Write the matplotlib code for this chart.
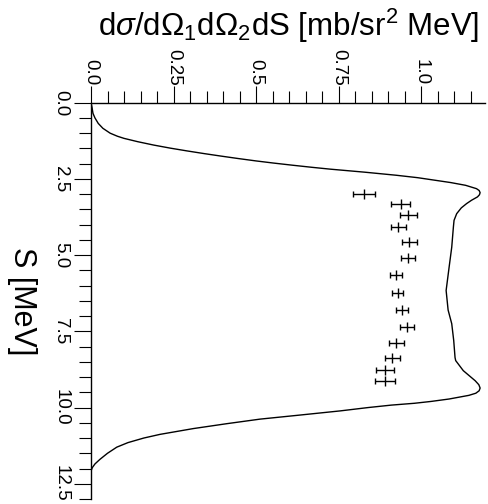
import matplotlib
matplotlib.use("Agg")
import matplotlib.pyplot as plt
from matplotlib.ticker import MultipleLocator, FixedLocator

plt.rcParams['font.family'] = ['Liberation Sans', 'DejaVu Sans']
plt.rcParams['mathtext.fontset'] = 'custom'
plt.rcParams['mathtext.rm'] = 'Liberation Sans'
plt.rcParams['mathtext.it'] = 'Liberation Sans:italic'
plt.rcParams['mathtext.bf'] = 'Liberation Sans:bold'

# Theory curve: S [MeV] and cross section [mb/sr^2 MeV]
curve_S = [0.0, 0.05, 0.15, 0.35, 0.5, 0.68, 0.84, 1.0, 1.1, 1.17, 1.28, 1.39, 1.49,
           1.58, 1.67, 1.75, 1.83, 1.91, 1.98, 2.05, 2.12, 2.18, 2.28, 2.38, 2.46, 2.54,
           2.62, 2.71, 2.82, 2.88, 2.95, 3.02, 3.09, 3.2, 3.31, 3.45, 3.64, 3.86, 4.08,
           4.74, 5.4, 6.16, 6.8, 7.25, 7.8, 8.36, 8.46, 8.79, 9.12, 9.25, 9.36, 9.45,
           9.53, 9.6, 9.66, 9.72, 9.8, 9.86, 9.92, 10.0, 10.11, 10.25, 10.38, 10.53,
           10.69, 10.88, 11.0, 11.15, 11.3, 11.5, 11.7, 11.85, 11.97, 12.08]
curve_v = [0.0, 0.001, 0.003, 0.006, 0.012, 0.022, 0.036, 0.058, 0.08, 0.1, 0.142, 0.19, 0.24,
           0.29, 0.343, 0.393, 0.445, 0.5, 0.553, 0.61, 0.67, 0.725, 0.83, 0.925, 0.99, 1.04,
           1.09, 1.135, 1.168, 1.176, 1.179, 1.177, 1.171, 1.153, 1.138, 1.122, 1.108, 1.100, 1.098,
           1.093, 1.085, 1.076, 1.082, 1.093, 1.099, 1.103, 1.105, 1.128, 1.164, 1.175, 1.179, 1.176,
           1.166, 1.145, 1.115, 1.085, 1.03, 0.98, 0.91, 0.84, 0.755, 0.63, 0.512, 0.411,
           0.31, 0.209, 0.16, 0.112, 0.078, 0.05, 0.027, 0.012, 0.004, 0.0]

# Experimental data
data_S = [3.01, 3.31, 3.67, 4.09, 4.56, 5.10, 5.66, 6.24, 6.81, 7.36, 7.88, 8.38, 8.77, 9.13]
data_v = [0.827, 0.939, 0.961, 0.931, 0.964, 0.960, 0.924, 0.929, 0.942, 0.958, 0.925, 0.913, 0.890, 0.891]
data_err = [0.032, 0.029, 0.026, 0.022, 0.023, 0.021, 0.017, 0.017, 0.018, 0.022, 0.022, 0.023, 0.027, 0.031]

x_ticks = [0.0, 0.25, 0.5, 0.75, 1.0]
x_tick_labels = ['0.0', '0.25', '0.5', '0.75', '1.0']
y_ticks = [0.0, 2.5, 5.0, 7.5, 10.0, 12.5]
y_tick_labels = ['0.0', '2.5', '5.0', '7.5', '10.0', '12.5']

fig = plt.figure(figsize=(4.88, 5.04), dpi=100)
ax = fig.add_axes([91/488, 1 - 499/504, (485.4 - 91)/488, (499 - 102.7)/504])

ax.plot(curve_v, curve_S, color='black', lw=1.0)
ax.errorbar(data_v, data_S, xerr=data_err, fmt='none', ecolor='black',
            elinewidth=1.0, capsize=2.5, capthick=1.0)
ax.scatter(data_v, data_S, marker='|', s=45, color='black', linewidths=1.0)

ax.set_xlim(0, 1.195)
ax.set_ylim(13.0, 0)

for s in ['right', 'bottom']:
    ax.spines[s].set_visible(False)
for s in ['left', 'top']:
    ax.spines[s].set_linewidth(1.0)

ax.xaxis.tick_top()
ax.xaxis.set_label_position('top')
ax.xaxis.set_major_locator(FixedLocator(x_ticks))
ax.set_xticklabels(x_tick_labels)
ax.xaxis.set_minor_locator(MultipleLocator(0.05))
ax.yaxis.set_major_locator(FixedLocator(y_ticks))
ax.set_yticklabels(y_tick_labels)
ax.yaxis.set_minor_locator(MultipleLocator(0.5))

ax.tick_params(which='major', length=12, width=0.8, direction='out')
ax.tick_params(which='minor', length=9, width=0.8, direction='out')
ax.tick_params(axis='x', which='major', pad=0.5, labelsize=13.5, labelrotation=-90)
ax.tick_params(axis='y', which='major', pad=3.5, labelsize=13.5, labelrotation=-90)
for lbl in ax.get_yticklabels():
    lbl.set_va('center')
for lbl in ax.get_xticklabels():
    lbl.set_ha('center')

ax.set_xlabel(r'd$\sigma$/d$\Omega_1$d$\Omega_2$dS [mb/sr$^2$ MeV]', fontsize=22.5, labelpad=9)
fig.text(22/488, 1 - 301/504, 'S [MeV]', rotation=-90, ha='center', va='center', fontsize=22)

fig.savefig('out.png', dpi=100)
